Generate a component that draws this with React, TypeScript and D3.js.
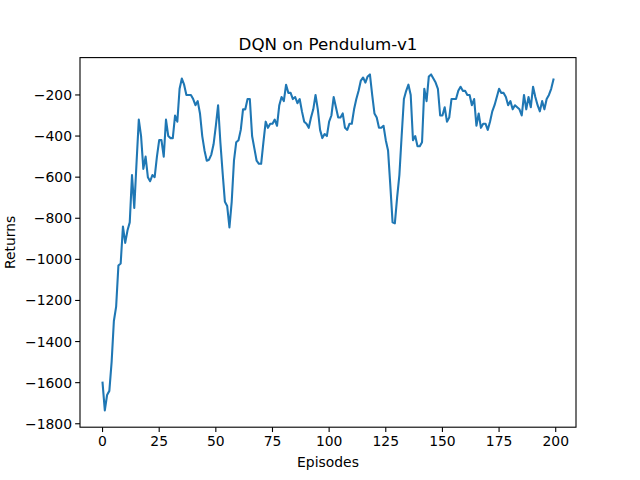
import * as d3 from "d3";
import React from "react";

const returns: number[] = [
  -1600, -1735, -1660, -1640, -1500, -1300, -1230, -1030, -1020, -840,
  -920, -860, -820, -590, -750, -530, -320, -400, -560, -500,
  -600, -620, -590, -600, -500, -420, -420, -500, -320, -400,
  -410, -410, -300, -330, -170, -120, -150, -200, -200, -200,
  -220, -250, -230, -290, -400, -470, -520, -515, -490, -440,
  -350, -250, -430, -580, -720, -740, -845, -720, -520, -430,
  -420, -370, -270, -270, -220, -220, -400, -460, -520, -535,
  -535, -430, -330, -360, -340, -340, -320, -350, -250, -210,
  -230, -150, -190, -190, -220, -210, -240, -220, -280, -330,
  -340, -360, -310, -270, -200, -270, -370, -410, -390, -400,
  -330, -300, -210, -260, -310, -310, -290, -360, -370, -340,
  -340, -270, -220, -180, -130, -115, -140, -110, -100, -200,
  -290, -310, -360, -360, -350, -420, -470, -640, -820, -825,
  -700, -590, -400, -220, -180, -150, -200, -420, -400, -450,
  -450, -430, -170, -230, -110, -100, -120, -140, -170, -300,
  -300, -260, -330, -310, -220, -220, -220, -180, -160, -180,
  -180, -200, -200, -250, -220, -350, -290, -360, -340, -340,
  -370, -330, -280, -250, -210, -170, -190, -190, -210, -250,
  -230, -270, -250, -260, -270, -300, -200, -270, -210, -260,
  -160, -210, -250, -280, -230, -270, -220, -200, -170, -125,
];
const xTicks = [0, 25, 50, 75, 100, 125, 150, 175, 200];
const yTicks = [-1800, -1600, -1400, -1200, -1000, -800, -600, -400, -200];

const W = 640, H = 480;
const left = 80, right = 576, top = 57.6, bottom = 427.2;
const font = "DejaVu Sans, sans-serif";
const fmt = (v: number) => String(v).replace("-", "\u2212");

export default function App() {
  const x = d3.scaleLinear().domain([-9.95, 208.95]).range([left, right]);
  const y = d3.scaleLinear().domain([-1816.75, -18.25]).range([bottom, top]);
  const line = d3.line<number>().x((_, i) => x(i)).y(d => y(d));

  return (
    <svg width={W} height={H} style={{ position: "absolute", left: 0, top: 0, background: "#fff" }} fontFamily={font}>
      <rect width={W} height={H} fill="#fff" />
      <path d={line(returns) || ""} fill="none" stroke="#1f77b4" strokeWidth={2.08} strokeLinejoin="round" strokeLinecap="square" />
      <rect x={left} y={top} width={right - left} height={bottom - top} fill="none" stroke="#000" strokeWidth={1.1} />
      {xTicks.map(t => (
        <g key={t}>
          <line x1={x(t)} x2={x(t)} y1={bottom} y2={bottom + 4.86} stroke="#000" strokeWidth={1.1} />
          <text x={x(t)} y={bottom + 18.5} textAnchor="middle" fontSize={13.9}>{t}</text>
        </g>
      ))}
      {yTicks.map(t => (
        <g key={t}>
          <line x1={left - 4.86} x2={left} y1={y(t)} y2={y(t)} stroke="#000" strokeWidth={1.1} />
          <text x={left - 8} y={y(t)} dy="0.36em" textAnchor="end" fontSize={13.9}>{fmt(t)}</text>
        </g>
      ))}
      <text x={(left + right) / 2} y={467} textAnchor="middle" fontSize={13.9}>Episodes</text>
      <text transform={`translate(15,${(top + bottom) / 2}) rotate(-90)`} textAnchor="middle" fontSize={13.9}>Returns</text>
      <text x={(left + right) / 2} y={50} textAnchor="middle" fontSize={16.7}>DQN on Pendulum-v1</text>
    </svg>
  );
}
